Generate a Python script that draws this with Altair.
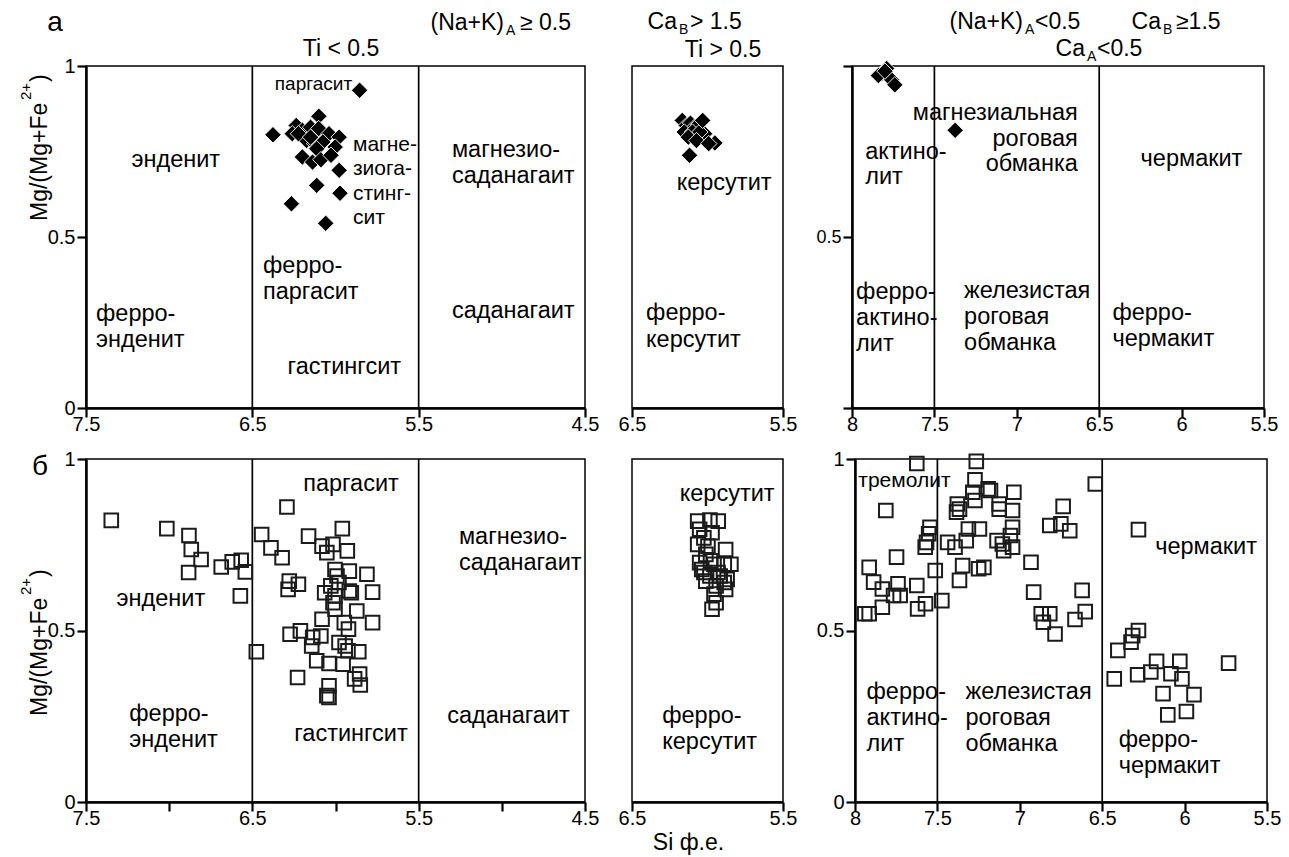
import altair as alt
import pandas as pd

FONT = "Liberation Sans"
INK = "#1b1b1b"

# ---------------- measured compositions: Si (f.u.) and Mg/(Mg+Fe2+) ----------------
# row "а" (filled diamonds)
a1_si = [5.855, 6.376, 5.978, 6.113, 5.973, 6.265, 6.059, 6.100, 6.236, 6.199, 6.150, 6.101, 6.260,
         6.039, 5.978, 6.174, 6.125, 6.076, 6.113, 6.002, 6.199, 6.138, 6.088, 6.027, 6.223, 6.150]
a1_mg = [0.929, 0.799, 0.695, 0.651, 0.628, 0.597, 0.540, 0.853, 0.826, 0.812, 0.821, 0.817, 0.802,
         0.802, 0.792, 0.782, 0.773, 0.778, 0.758, 0.763, 0.734, 0.719, 0.726, 0.739, 0.802, 0.792]

a2_si = [6.119, 5.951, 6.019, 6.167, 6.140, 6.113, 6.086, 6.059, 6.154, 6.100, 6.051, 6.127, 6.073, 5.992, 6.032]
a2_mg = [0.739, 0.775, 0.802, 0.841, 0.826, 0.833, 0.821, 0.829, 0.807, 0.807, 0.807, 0.792, 0.782, 0.773, 0.841]

a3_si = [7.79, 7.82, 7.76, 7.74, 7.84, 7.80, 7.374]
a3_mg = [0.993, 0.978, 0.960, 0.945, 0.972, 0.985, 0.812]

# row "б" (open squares)
b1_si = [7.348, 7.014, 6.881, 6.867, 6.808, 6.883, 6.687, 6.621, 6.567, 6.542, 6.572, 6.476, 6.444,
         6.388, 6.321, 6.292, 6.162, 6.278, 6.285, 6.223, 6.081, 6.052, 5.959, 6.015, 5.929, 5.917,
         5.811, 5.777, 6.003, 5.991, 5.979, 6.028, 6.065, 5.917, 5.905, 6.003, 6.015, 6.003, 5.872,
         6.081, 5.777, 5.947, 5.922, 6.273, 6.211, 6.137, 6.088, 6.143, 5.979, 5.942, 5.925, 5.860,
         6.113, 6.039, 5.954, 6.228, 5.855, 5.885, 5.851, 6.039, 6.052, 6.039]
b1_mg = [0.821, 0.797, 0.777, 0.736, 0.707, 0.669, 0.685, 0.700, 0.705, 0.671, 0.601, 0.438, 0.780,
         0.741, 0.712, 0.860, 0.775, 0.644, 0.620, 0.635, 0.746, 0.727, 0.797, 0.751, 0.732, 0.673,
         0.664, 0.612, 0.678, 0.659, 0.640, 0.630, 0.610, 0.615, 0.610, 0.601, 0.581, 0.562, 0.557,
         0.533, 0.523, 0.523, 0.504, 0.489, 0.499, 0.480, 0.484, 0.455, 0.465, 0.455, 0.441, 0.438,
         0.412, 0.404, 0.402, 0.363, 0.373, 0.359, 0.341, 0.339, 0.310, 0.305]

b2_si = [6.065, 5.984, 5.929, 6.052, 5.970, 6.024, 6.065, 5.997, 5.880, 6.011, 6.052, 5.957, 5.889, 5.845,
         6.024, 5.984, 5.916, 5.870, 5.889, 5.943, 6.011, 5.880, 5.957, 5.943, 5.970, 6.038, 5.930, 5.980]
b2_mg = [0.819, 0.822, 0.819, 0.795, 0.785, 0.770, 0.751, 0.746, 0.736, 0.722, 0.698, 0.693, 0.693, 0.693,
         0.669, 0.659, 0.659, 0.649, 0.640, 0.630, 0.644, 0.620, 0.606, 0.581, 0.562, 0.678, 0.669, 0.703]

b3_si = [7.625, 7.264, 7.272, 7.813, 7.914, 7.887, 7.834, 7.748, 7.739, 7.726,
         7.766, 7.834, 7.914, 7.941, 7.625, 7.620, 7.572, 7.545, 7.553, 7.566,
         7.574, 7.513, 7.473, 7.438, 7.393, 7.379, 7.366, 7.384, 7.312, 7.325,
         7.347, 7.366, 7.250, 7.218, 7.285, 7.272, 7.192, 7.178, 7.245, 7.125,
         7.125, 7.036, 7.044, 7.044, 7.057, 7.138, 7.106, 7.098, 7.044, 6.932,
         6.916, 6.870, 6.857, 6.818, 6.786, 6.818, 6.751, 6.737, 6.697, 6.622,
         6.603, 6.665, 6.542, 6.280, 6.315, 6.280, 6.325, 6.405, 6.427, 6.285,
         6.205, 6.170, 6.083, 6.029, 6.016, 6.131, 5.943, 6.102, 5.989, 5.733]
b3_mg = [0.987, 0.993, 0.939, 0.850, 0.684, 0.641, 0.621, 0.714, 0.636, 0.602,
         0.602, 0.568, 0.549, 0.549, 0.631, 0.563, 0.578, 0.801, 0.782, 0.757,
         0.743, 0.675, 0.587, 0.757, 0.743, 0.869, 0.854, 0.845, 0.796, 0.762,
         0.689, 0.646, 0.680, 0.684, 0.903, 0.879, 0.913, 0.908, 0.796, 0.869,
         0.854, 0.903, 0.850, 0.801, 0.777, 0.762, 0.752, 0.733, 0.743, 0.699,
         0.612, 0.549, 0.524, 0.549, 0.490, 0.806, 0.811, 0.862, 0.791, 0.617,
         0.555, 0.532, 0.927, 0.794, 0.485, 0.500, 0.466, 0.442, 0.359, 0.371,
         0.379, 0.410, 0.374, 0.410, 0.359, 0.316, 0.313, 0.254, 0.264, 0.405]

# field boundaries (Si) and axis ticks
sodic_bounds = [6.5, 5.5]
calcic_bounds = [7.5, 6.5]
sodic_ticks = [7.5, 6.5, 5.5, 4.5]
sodic_ticks_minor = [7.5, 7.0, 6.5, 6.0, 5.5, 5.0, 4.5]
kaersutite_ticks = [6.5, 5.5]
calcic_ticks = [8, 7.5, 7, 6.5, 6, 5.5]
ratio_ticks = [0, 0.5, 1]

R = 23.5  # field-name font size
# field names: (text, Si, Mg#, align, font size)
fields_a1 = [("энденит", 6.96, 0.725, "center", R),
             ("ферро-", 7.44, 0.275, "left", R), ("энденит", 7.44, 0.200, "left", R),
             ("паргасит", 5.90, 0.947, "right", 19),
             ("магне-", 5.895, 0.769, "left", 21), ("зиога-", 5.895, 0.698, "left", 21),
             ("стинг-", 5.895, 0.627, "left", 21), ("сит", 5.895, 0.556, "left", 21),
             ("ферро-", 6.436, 0.414, "left", R), ("паргасит", 6.436, 0.339, "left", R),
             ("гастингсит", 5.947, 0.120, "center", R),
             ("магнезио-", 5.30, 0.754, "left", R), ("саданагаит", 5.30, 0.679, "left", R),
             ("саданагаит", 5.30, 0.284, "left", R)]
fields_a2 = [("керсутит", 5.89, 0.658, "center", R),
             ("ферро-", 6.407, 0.277, "left", R), ("керсутит", 6.407, 0.200, "left", R)]
fields_a3 = [("актино-", 7.92, 0.750, "left", R), ("лит", 7.92, 0.675, "left", R),
             ("магнезиальная", 6.63, 0.864, "right", R), ("роговая", 6.63, 0.788, "right", R),
             ("обманка", 6.63, 0.712, "right", R),
             ("чермакит", 5.94, 0.728, "center", R),
             ("ферро-", 7.975, 0.338, "left", R), ("актино-", 7.975, 0.262, "left", R),
             ("лит", 7.975, 0.186, "left", R),
             ("железистая", 7.32, 0.343, "left", R), ("роговая", 7.32, 0.267, "left", R),
             ("обманка", 7.32, 0.191, "left", R),
             ("ферро-", 6.42, 0.278, "left", R), ("чермакит", 6.42, 0.202, "left", R)]
fields_b1 = [("паргасит", 5.907, 0.927, "center", R),
             ("магнезио-", 5.258, 0.772, "left", R), ("саданагаит", 5.258, 0.696, "left", R),
             ("энденит", 7.05, 0.592, "center", R),
             ("ферро-", 7.24, 0.257, "left", R), ("энденит", 7.24, 0.181, "left", R),
             ("гастингсит", 5.907, 0.198, "center", R),
             ("саданагаит", 4.96, 0.251, "center", R)]
fields_b2 = [("керсутит", 5.87, 0.898, "center", R),
             ("ферро-", 6.30, 0.252, "left", R), ("керсутит", 6.30, 0.176, "left", R)]
fields_b3 = [("тремолит", 7.98, 0.936, "left", 21),
             ("чермакит", 5.87, 0.743, "center", R),
             ("ферро-", 7.93, 0.320, "left", R), ("актино-", 7.93, 0.244, "left", R),
             ("лит", 7.93, 0.168, "left", R),
             ("железистая", 7.33, 0.322, "left", R), ("роговая", 7.33, 0.246, "left", R),
             ("обманка", 7.33, 0.170, "left", R),
             ("ферро-", 6.40, 0.180, "left", R), ("чермакит", 6.40, 0.104, "left", R)]

W1, W2, W3 = 499, 151, 412
H_TOP, H_BOT = 342, 343
HEAD = 23  # header font size

ALL_LABELS = "'' + datum.value"


def x_axis(values, label_expr=ALL_LABELS, size=20, **extra):
    opts = dict(values=values, labelExpr=label_expr, tickSize=9, labelPadding=-3, domainWidth=2.5,
                domainColor="black", tickColor="black", tickWidth=2.2, labelFontSize=size,
                labelColor="black", labelFont=FONT, labelFlush=False, labelOverlap=False,
                grid=False, title=None)
    opts.update(extra)
    return alt.Axis(**opts)


def y_axis(label_expr=ALL_LABELS, size=20, **extra):
    opts = dict(values=ratio_ticks, labelExpr=label_expr, tickSize=9, labelPadding=2, domainWidth=2.5,
                domainColor="black", tickColor="black", tickWidth=2.2, labelFontSize=size,
                labelColor="black", labelFont=FONT, labelFlush=False, labelOverlap=False,
                grid=False, title=None)
    opts.update(extra)
    return alt.Axis(**opts)


def note(text, px, py, size, align="left", angle=0):
    return alt.Chart(pd.DataFrame({"t": [text]})).mark_text(
        font=FONT, fontSize=size, align=align, baseline="middle", color="black", angle=angle
    ).encode(x=alt.value(px), y=alt.value(py), text="t:N")


def ratio_title(y_start):
    """Rotated 'Mg/(Mg+Fe2+)' reading upwards from y_start, with a raised 2+."""
    return [note("Mg/(Mg+Fe", -46, y_start, 23, "left", 270),
            note("2+", -60, y_start - 121, 15, "left", 270),
            note(")", -46, y_start - 139, 23, "left", 270)]


def panel(width, height, x_lo, x_hi, xax, yax, si, mg, marker, bounds, fields, notes):
    xs = alt.Scale(domain=[x_lo, x_hi], reverse=True, nice=False, zero=False)
    ys = alt.Scale(domain=[0, 1], nice=False, zero=False)
    X = alt.X("si:Q", scale=xs, axis=xax)
    Y = alt.Y("mg:Q", scale=ys, axis=yax)

    layers = []
    layers.append(alt.Chart(pd.DataFrame({"si": bounds, "mg": [0.5] * len(bounds)}))
                  .mark_rule(color="black", strokeWidth=1.7)
                  .encode(x=X))
    df = pd.DataFrame({"si": si, "mg": mg})
    if marker == "diamond":
        pts = alt.Chart(df).mark_point(shape="diamond", filled=True, size=270, fill="black",
                                       stroke="white", strokeWidth=0.9, opacity=1)
    else:
        pts = alt.Chart(df).mark_point(shape="square", filled=False, size=185, color=INK,
                                       strokeWidth=2, opacity=1)
    layers.append(pts.encode(x=X, y=Y))

    groups = {}
    for text, x, y, align, size in fields:
        groups.setdefault((align, size), []).append((text, x, y))
    for (align, size), rows in groups.items():
        fdf = pd.DataFrame({"t": [r[0] for r in rows], "si": [r[1] for r in rows],
                            "mg": [r[2] for r in rows]})
        layers.append(alt.Chart(fdf).mark_text(font=FONT, fontSize=size, align=align,
                                               baseline="middle", color="black")
                      .encode(x=X, y=Y, text="t:N"))
    layers.extend(notes)
    return alt.layer(*layers).properties(width=width, height=height)


# ---------------- row а ----------------
p_a1 = panel(W1, H_TOP, 4.5, 7.5, x_axis(sodic_ticks), y_axis(),
             a1_si, a1_mg, "diamond", sodic_bounds, fields_a1,
             ratio_title(155) +
             [note("а", -31, -43, 28, "center"),
              note("(Na+K)", 418, -43, HEAD, "right"), note("A", 420, -35, 14),
              note("≥ 0.5", 434, -43, HEAD),
              note("Ti < 0.5", 255, -17, HEAD, "center")])

p_a2 = panel(W2, H_TOP, 5.5, 6.5, x_axis(kaersutite_ticks), None,
             a2_si, a2_mg, "diamond", [], fields_a2,
             [note("Ca", 45, -44, HEAD, "right"), note("B", 47, -36, 14),
              note("> 1.5", 58, -44, HEAD),
              note("Ti > 0.5", 91, -16, HEAD, "center")])

p_a3 = panel(W3, H_TOP, 5.5, 8, x_axis(calcic_ticks),
             y_axis(label_expr="datum.value == 0.5 ? '' + datum.value : ''", size=18),
             a3_si, a3_mg, "diamond", calcic_bounds, fields_a3,
             [note("(Na+K)", 171, -44, HEAD, "right"), note("A", 173, -36, 14),
              note("<0.5", 183, -44, HEAD),
              note("Ca", 309, -44, HEAD, "right"), note("B", 311, -36, 14),
              note("≥1.5", 324, -44, HEAD),
              note("Ca", 233, -17, HEAD, "right"), note("A", 235, -9, 14),
              note("<0.5", 245, -17, HEAD)])

# ---------------- row б ----------------
p_b1 = panel(W1, H_BOT, 4.5, 7.5,
             x_axis(sodic_ticks_minor, label_expr="datum.value % 1 == 0 ? '' : '' + datum.value"),
             y_axis(),
             b1_si, b1_mg, "square", sodic_bounds, fields_b1,
             ratio_title(257) + [note("б", -46, 8, 28, "center")])

p_b2 = panel(W2, H_BOT, 5.5, 6.5,
             x_axis(kaersutite_ticks, title="Si ф.е.", titleFont=FONT, titleFontSize=23,
                    titleFontWeight="normal", titleColor="black", titleX=56, titleY=40,
                    titleAlign="center", titleBaseline="middle"),
             None, b2_si, b2_mg, "square", [], fields_b2, [])

p_b3 = panel(W3, H_BOT, 5.5, 8, x_axis(calcic_ticks), y_axis(),
             b3_si, b3_mg, "square", calcic_bounds, fields_b3, [])

row_a = alt.hconcat(p_a1, p_a2, p_a3, spacing=17)
row_b = alt.hconcat(p_b1, p_b2, p_b3, spacing=17)

chart = (
    alt.vconcat(row_a, row_b, spacing=13)
    .properties(padding={"left": 18, "top": 8, "right": 5, "bottom": 5}, background="white")
    .configure_view(stroke="black", strokeWidth=1.5)
)

chart.save("out.html", embed_options={"renderer": "svg", "actions": False})
